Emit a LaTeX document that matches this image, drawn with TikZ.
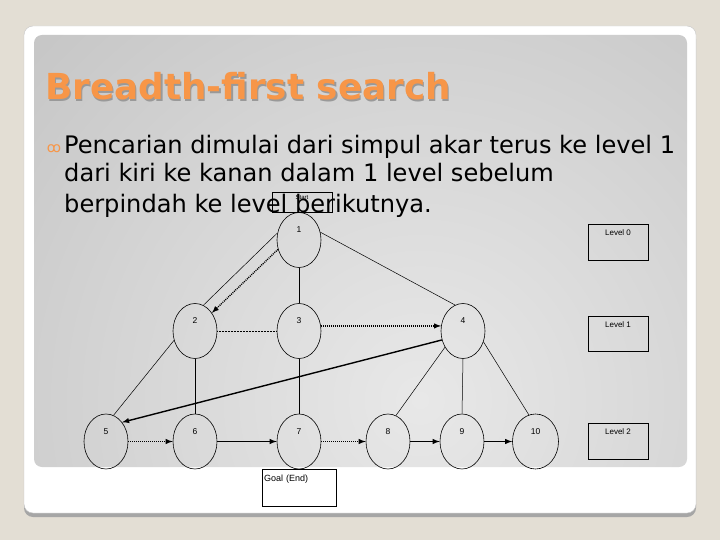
\documentclass[tikz,border=0pt]{standalone}
\usepackage{fontspec}
\setmainfont{DejaVu Sans}
\newfontfamily\labelfont{Liberation Sans}
\usetikzlibrary{shapes,arrows,positioning,calc}
\definecolor{slidebg}{RGB}{227,222,212}
\definecolor{titleorange}{RGB}{247,150,72}

\begin{document}
\begin{tikzpicture}[
    x=1pt, y=-1pt, >=latex,
    vertex/.style = {ellipse, draw, line width=0.6pt, minimum width=44pt, minimum height=55pt, inner sep=0pt, text height=5pt, text depth=20pt, font=\labelfont\fontsize{8.5}{9}\selectfont},
    levelbox/.style = {rectangle, draw, line width=0.6pt, minimum width=60pt, minimum height=36pt, inner sep=1pt, text height=5pt, text depth=18pt, font=\labelfont\fontsize{8}{9}\selectfont},
    thinline/.style = {line width=0.5pt},
    solidarrow/.style = {->, line width=1.4pt},
    dotarrow/.style = {->, line width=1.4pt, dash pattern=on 1pt off 1pt},
    body/.style = {anchor=base west, inner sep=0pt, font=\fontsize{24.1}{28}\selectfont}
]
    % Slide background
    \fill[slidebg] (0,0) rectangle (720,540);
    \fill[gray!70, rounded corners=9pt] (24,30) rectangle (696,517);
    \filldraw[fill=white, draw=gray!45, rounded corners=9pt] (24,26) rectangle (696,513);
    \begin{scope}
        \clip[rounded corners=8pt] (34,35) rectangle (687,467);
        \shade[inner color=gray!18, outer color=gray!68] (420,400) circle (1000);
    \end{scope}
    \useasboundingbox (0,0) rectangle (720,540);

    % Title and text
    \node[anchor=base west, inner sep=0pt, text=gray!80, font=\bfseries\fontsize{35.8}{40}\selectfont] (titleshadow) at (46.5,101.5) {Breadth-first search};
    \node[anchor=base west, inner sep=0pt, text=titleorange, font=\bfseries\fontsize{35.8}{40}\selectfont] (title) at (45,100) {Breadth-first search};
    \node[text=titleorange, inner sep=0pt, font=\fontsize{14}{15}\selectfont] (bullet) at (54,149) {ꝏ};
    \node[body] (line1) at (64,154) {Pencarian dimulai dari simpul akar terus ke level 1};
    \node[body] (line2) at (64,182) {dari kiri ke kanan dalam 1 level sebelum};
    \node[body] (line3) at (64,213) {berpindah ke level berikutnya.};

    % Tree nodes
    \node[vertex] (n1) at (299,240) {1};
    \node[vertex] (n2) at (195,331) {2};
    \node[vertex] (n3) at (299,331) {3};
    \node[vertex] (n4) at (463,331) {4};
    \node[vertex] (n5) at (106,441.5) {5};
    \node[vertex] (n6) at (195,441.5) {6};
    \node[vertex] (n7) at (299,441.5) {7};
    \node[vertex] (n8) at (388,441.5) {8};
    \node[vertex] (n9) at (462,441.5) {9};
    \node[vertex, minimum width=46pt] (n10) at (535.5,441.5) {10};

    % Boxes
    \node[levelbox, minimum height=20pt, text height=4pt, text depth=8pt, font=\labelfont\fontsize{6}{7}\selectfont] (start) at (302,202) {Start};
    \node[levelbox] (lvl0) at (618,242.5) {Level 0};
    \node[levelbox, minimum height=35pt] (lvl1) at (618,333.5) {Level 1};
    \node[levelbox] (lvl2) at (618,441) {Level 2};
    \node[levelbox, fill=white, minimum width=74pt, minimum height=37pt, text width=70pt, align=left, font=\labelfont\fontsize{9}{10}\selectfont] (goal) at (299,487.5) {Goal (End)};

    % Edges
    \draw[thinline] (n1.162) -- (n2.72);
    \draw[dotarrow] (n1.204) -- (n2.47);
    \draw[thinline] (n1.south) -- (n3.north);
    \draw[thinline] (n1.20) -- (n4.107);
    \draw[thinline, densely dotted] (n2.east) -- (n3.west);
    \draw[dotarrow] (n3.13) -- (n4.167);
    \draw[solidarrow] (n4.203) -- (n5.50);
    \draw[thinline] (n2.204) -- (n5.74);
    \draw[thinline] (n2.south) -- (n6.north);
    \draw[thinline] (n3.south) -- (n7.north);
    \draw[thinline] (n4.222) -- (n8.73);
    \draw[thinline] (n4.south) -- (n9.north);
    \draw[thinline] (n4.332) -- (n10.104);
    \draw[dotarrow] (n5.east) -- (n6.west);
    \draw[solidarrow] (n6.east) -- (n7.west);
    \draw[dotarrow] (n7.east) -- (n8.west);
    \draw[solidarrow] (n8.east) -- (n9.west);
    \draw[solidarrow] (n9.east) -- (n10.west);
\end{tikzpicture}
\end{document}
